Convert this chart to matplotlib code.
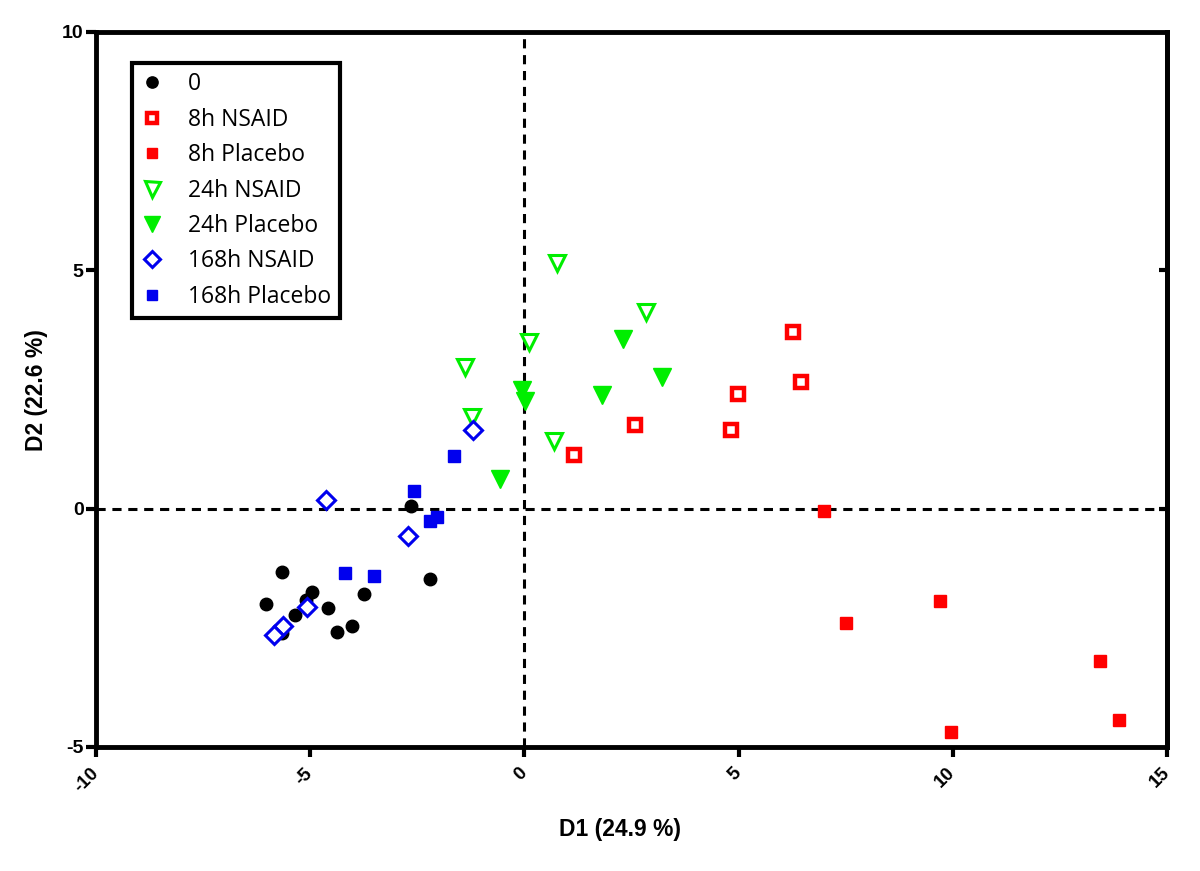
import matplotlib
matplotlib.use("Agg")
import matplotlib.pyplot as plt

# ---- data ----
g0_x = [-6.03, -5.65, -5.65, -5.35, -5.10, -4.96, -4.58, -4.38, -4.03, -3.75, -2.65, -2.20]
g0_y = [-2.00, -1.33, -2.61, -2.24, -1.92, -1.75, -2.08, -2.59, -2.46, -1.79, 0.06, -1.48]

n8_x = [1.15, 2.58, 6.28, 6.45, 4.98, 4.82]
n8_y = [1.13, 1.76, 3.71, 2.66, 2.40, 1.65]

p8_x = [7.00, 7.51, 9.70, 9.95, 13.44, 13.88]
p8_y = [-0.04, -2.40, -1.94, -4.69, -3.19, -4.43]

n24_x = [0.76, 2.84, 0.10, -1.39, -1.23, 0.68]
n24_y = [5.15, 4.13, 3.50, 2.98, 1.93, 1.41]

p24_x = [2.29, 3.22, 1.81, -0.05, 0.01, -0.56]
p24_y = [3.55, 2.77, 2.38, 2.49, 2.25, 0.62]

n168_x = [-4.63, -2.72, -5.08, -5.64, -5.84, -1.20]
n168_y = [0.18, -0.57, -2.06, -2.46, -2.66, 1.65]

p168_x = [-2.57, -2.20, -2.05, -4.18, -3.52, -1.64]
p168_y = [0.38, -0.25, -0.18, -1.36, -1.41, 1.10]

labels = ["0", "8h NSAID", "8h Placebo", "24h NSAID", "24h Placebo", "168h NSAID", "168h Placebo"]
xticks = [-10, -5, 0, 5, 10, 15]
yticks = [-5, 0, 5, 10]

RED = "#ff0000"
GREEN = "#00ee00"
BLUE = "#0000ee"

fig = plt.figure(figsize=(12, 8.71), dpi=100)
ax = fig.add_axes([0.08, 0.1424, 0.8925, 0.8209])

ax.axhline(0, color="black", lw=2.2, ls=(0, (3.0, 2.2)), zorder=1)
ax.axvline(0, color="black", lw=2.2, ls=(0, (3.0, 2.2)), zorder=1)

ax.plot(g0_x, g0_y, ls="none", marker="o", ms=9, mfc="black", mec="black", label=labels[0], zorder=3)
ax.plot(n8_x, n8_y, ls="none", marker="s", ms=8.3, mfc="white", mec=RED, mew=3.2, label=labels[1], zorder=3)
ax.plot(p8_x, p8_y, ls="none", marker="s", ms=8, mfc=RED, mec=RED, label=labels[2], zorder=3)
ax.plot(n24_x, n24_y, ls="none", marker="v", ms=12, mfc="white", mec=GREEN, mew=2.2, label=labels[3], zorder=3)
ax.plot(p24_x, p24_y, ls="none", marker="v", ms=12.5, mfc=GREEN, mec=GREEN, label=labels[4], zorder=3)
ax.plot(n168_x, n168_y, ls="none", marker="D", ms=8.8, mfc="white", mec=BLUE, mew=2.2, label=labels[5], zorder=3)
ax.plot(p168_x, p168_y, ls="none", marker="s", ms=8, mfc=BLUE, mec=BLUE, label=labels[6], zorder=3)

ax.set_xlim(-10, 15)
ax.set_ylim(-5, 10)
ax.set_xticks(xticks)
ax.set_yticks(yticks)
ax.set_xticklabels([str(t) for t in xticks], rotation=45, ha="right", va="center",
                   rotation_mode="anchor", fontsize=13.5, fontweight="bold", family="Liberation Sans")
ax.set_yticklabels([str(t) for t in yticks], fontsize=14, fontweight="bold", family="Liberation Sans")

for s in ax.spines.values():
    s.set_linewidth(3.5)
ax.tick_params(axis="both", direction="out", length=7, width=3.0, pad=2)
ax.tick_params(axis="x", pad=10)

sec = ax.secondary_yaxis("right")
sec.set_yticks([0, 5])
sec.tick_params(direction="in", length=6, width=3.0, labelright=False)
sec.spines["right"].set_linewidth(3.5)

ax.set_xlabel("D1 (24.9 %)", fontsize=16.5, fontweight="bold", family="Liberation Sans")
ax.set_ylabel("D2 (22.6 %)", fontsize=16.5, fontweight="bold", family="Liberation Sans")
ax.xaxis.set_label_coords(0.489, -0.099)
ax.yaxis.set_label_coords(-0.045, 0.499)

leg = ax.legend(loc="upper left", bbox_to_anchor=(0.0336, 0.9566), frameon=True, fancybox=False,
                framealpha=1, prop={"family": "Open Sans", "size": 16.5}, labelspacing=0.5,
                handlelength=0.97, handletextpad=1.08, borderpad=0.4, borderaxespad=0,
                markerscale=0.9)
leg.get_frame().set_edgecolor("black")
leg.get_frame().set_linewidth(3.0)

fig.savefig("out.png", dpi=100)
